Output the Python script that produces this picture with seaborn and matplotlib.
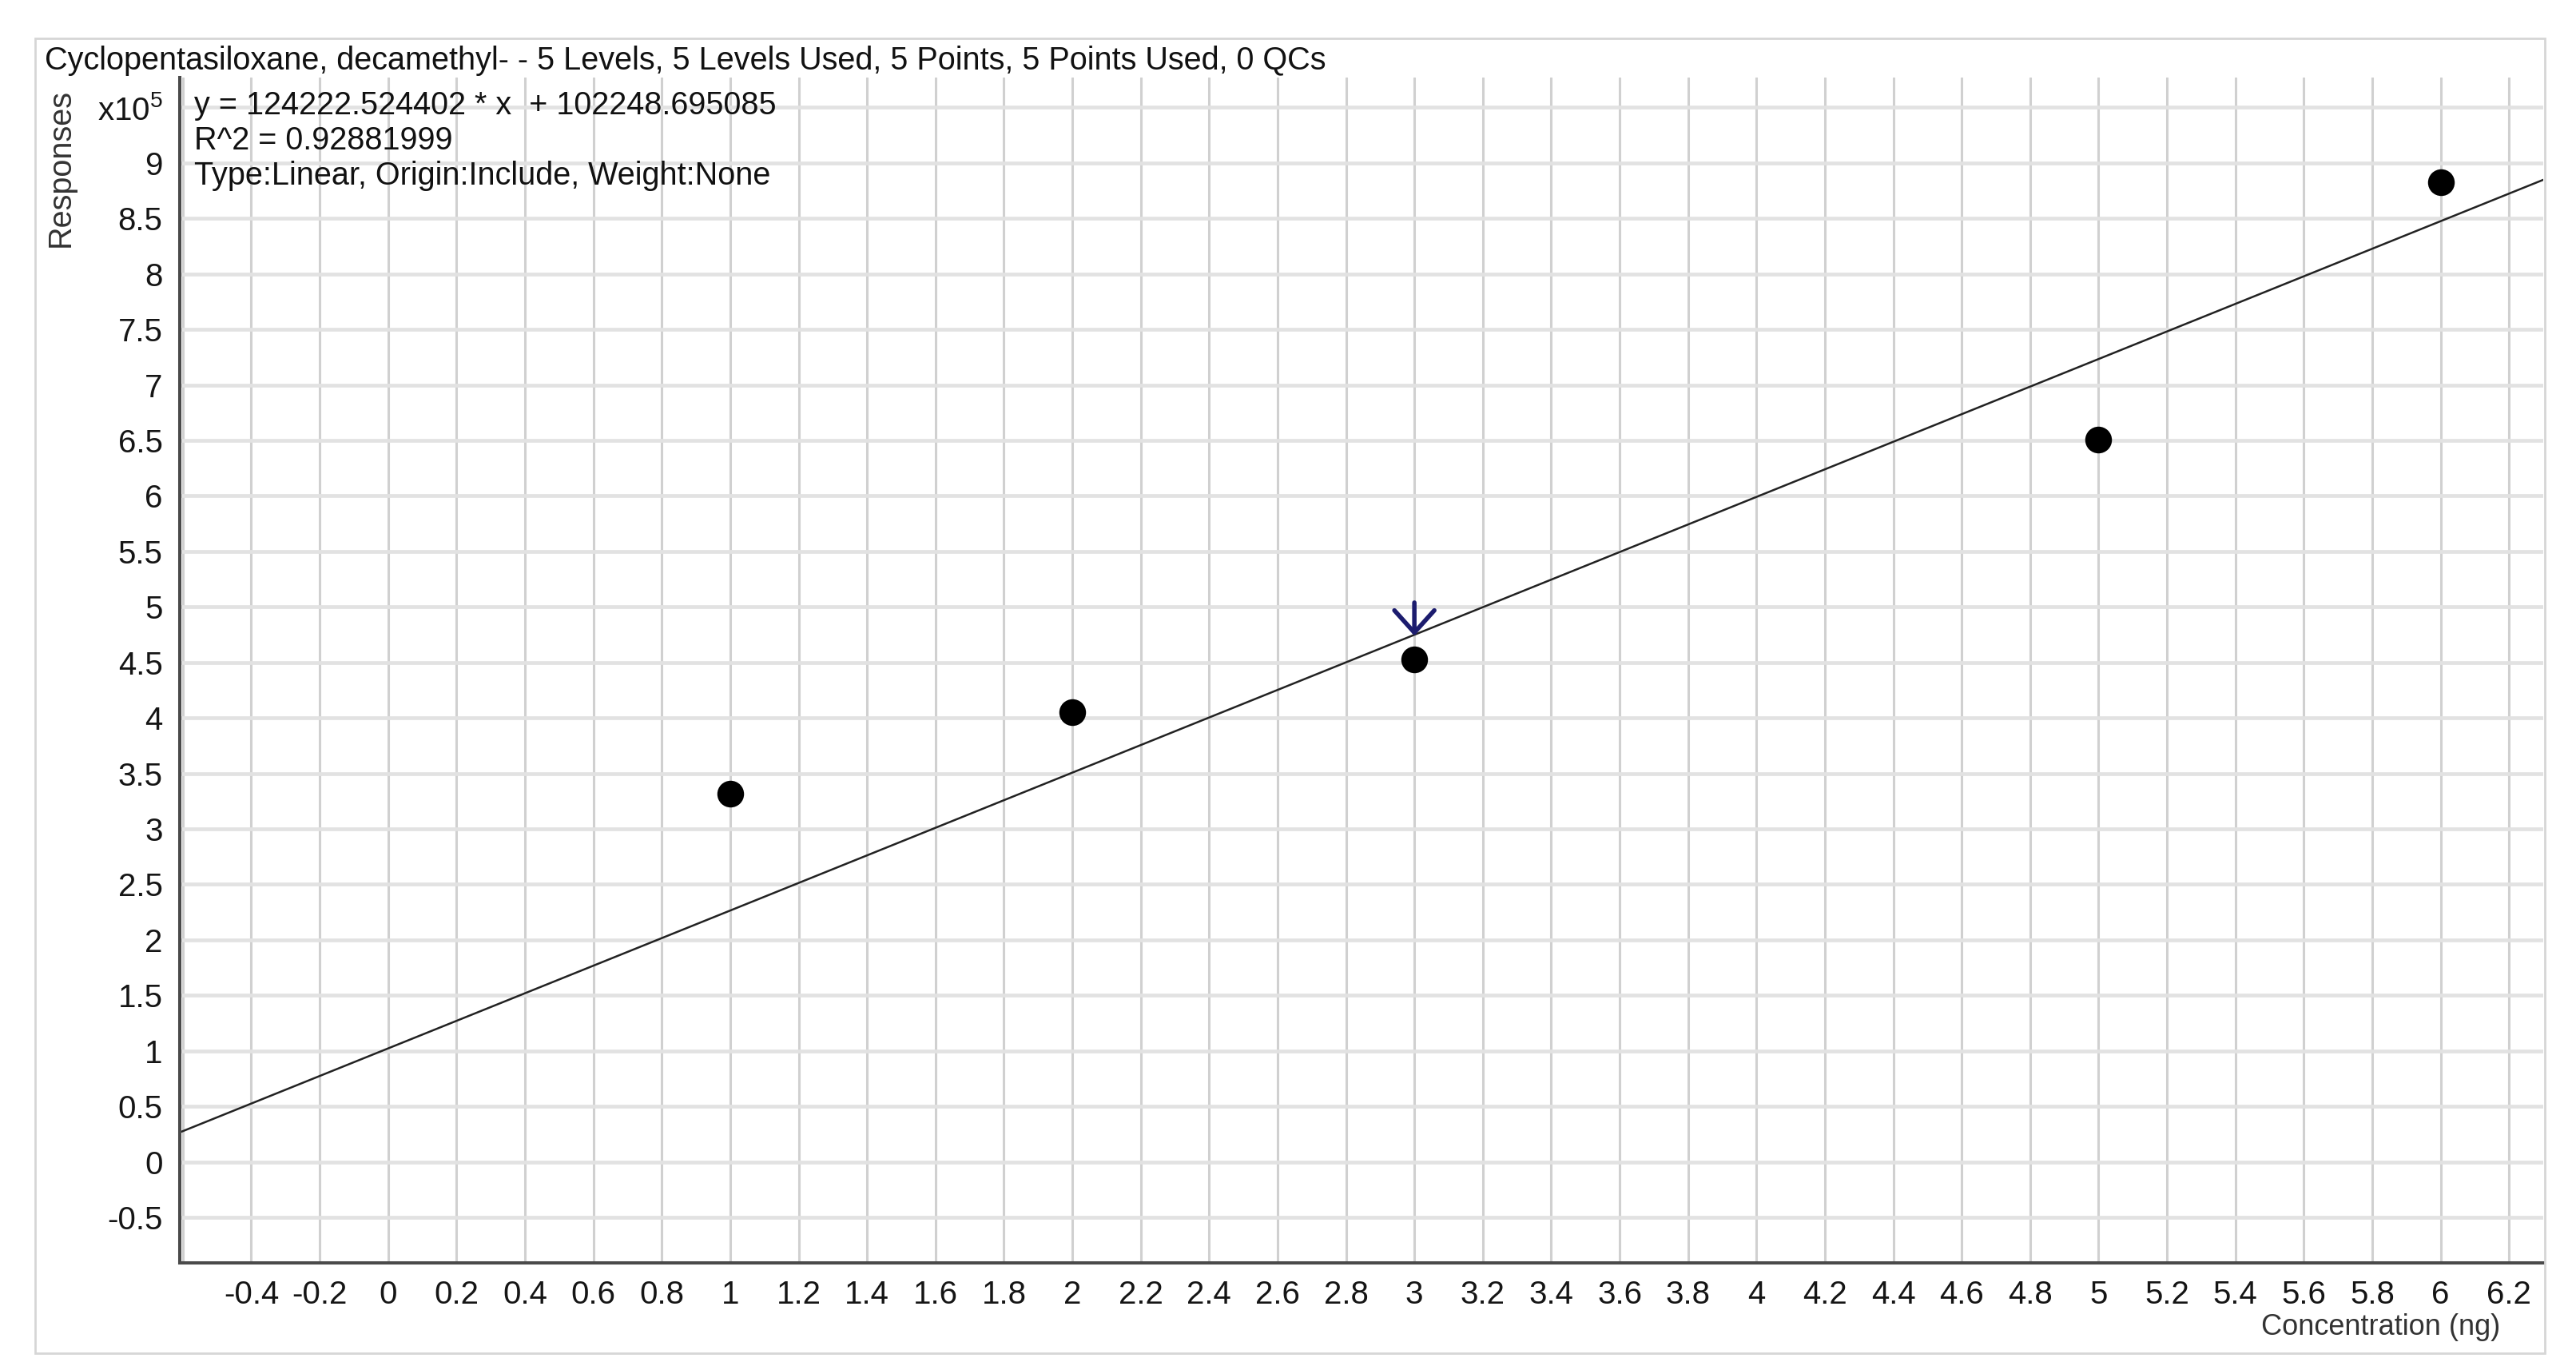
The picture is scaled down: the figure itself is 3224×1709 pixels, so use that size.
import matplotlib
matplotlib.use("Agg")
import matplotlib.pyplot as plt
import seaborn as sns
from matplotlib.patches import Rectangle

# data kalibrasi (respons dalam satuan x10^5)
konsentrasi = [1, 2, 3, 5, 6]
respons = [3.32, 4.05, 4.53, 6.51, 8.83]
slope = 124222.524402
intercept = 102248.695085
r2 = 0.92881999
x_batas = [-0.609, 6.30]
y_batas = [-0.91, 9.77]
x_ticks = [round(i * 0.2, 1) for i in range(-3, 32)]
y_ticks = [round(i * 0.5, 1) for i in range(-1, 20)]
titik_panah = 3

judul = "Cyclopentasiloxane, decamethyl- - 5 Levels, 5 Levels Used, 5 Points, 5 Points Used, 0 QCs"
info = ["y = 124222.524402 * x  + 102248.695085",
        "R^2 = 0.92881999",
        "Type:Linear, Origin:Include, Weight:None"]

sns.set_style("whitegrid")
plt.rcParams['font.family'] = ['Liberation Sans', 'DejaVu Sans']
plt.rcParams['mathtext.fontset'] = 'custom'
plt.rcParams['mathtext.rm'] = 'Liberation Sans'

W, H = 3224, 1709
fig = plt.figure(figsize=(W / 100, H / 100), dpi=100)
fig.patch.set_facecolor('white')
ax = fig.add_axes([225 / W, 1 - 1580 / H, (3183 - 225) / W, (1580 - 97) / H])

# garis regresi dari persamaan
garis_y = [(slope * x + intercept) / 1e5 for x in x_batas]
sns.lineplot(x=x_batas, y=garis_y, color='#222222', lw=1.8, ax=ax, zorder=2)

# titik data
sns.scatterplot(x=konsentrasi, y=respons, s=580, color='black', linewidth=0, ax=ax, zorder=3)

# panah penanda
y_garis = (slope * titik_panah + intercept) / 1e5
ax.annotate('', xy=(titik_panah, y_garis - 0.03), xytext=(titik_panah, y_garis + 0.31),
            arrowprops=dict(arrowstyle='->,head_length=0.5,head_width=0.45',
                            color='#1c1c6e', lw=4, mutation_scale=40), zorder=4)

ax.set_xlim(x_batas)
ax.set_ylim(y_batas)
ax.set_xticks(x_ticks)
ax.set_xticklabels(['' if t == -0.6 else f"{t:g}" for t in x_ticks])
ax.set_yticks(y_ticks)
ax.set_yticklabels(['x10$^5$' if t == 9.5 else f"{t:g}" for t in y_ticks])

ax.xaxis.grid(True, color='#d0d0d0', lw=2.2)
ax.yaxis.grid(True, color='#e2e2e2', lw=3.4)
for s in ['top', 'right']:
    ax.spines[s].set_visible(False)
for s in ['left', 'bottom']:
    ax.spines[s].set_color('#4a4a4a')
    ax.spines[s].set_linewidth(2.9)
ax.tick_params(axis='both', direction='out', width=2.2, color='#333333',
               labelsize=29, labelcolor='#151515')
ax.tick_params(axis='x', length=7, pad=8)
ax.tick_params(axis='y', length=10.5, pad=5)

# teks judul dan keterangan
fig.text(56 / W, 1 - 76 / H, judul, fontsize=28.5, va='center', ha='left', color='#111111')
for i, t in enumerate(info):
    fig.text(243 / W, 1 - (132 + 44 * i) / H, t, fontsize=28.5, va='center', ha='left', color='#111111')
fig.text(76 / W, 1 - 210 / H, "Responses", fontsize=28.5, rotation=90, va='center', ha='center', color='#333333')
fig.text(3129 / W, 1 - 1661 / H, "Concentration (ng)", fontsize=26, va='center', ha='right', color='#333333')

# bingkai
fig.patches.append(Rectangle((44 / W, 1 - 1693 / H), (3185 - 44) / W, (1693 - 48) / H,
                             transform=fig.transFigure, fill=False, ec='#d6d6d6', lw=2))

fig.savefig("out.png", dpi=100, facecolor='white')
